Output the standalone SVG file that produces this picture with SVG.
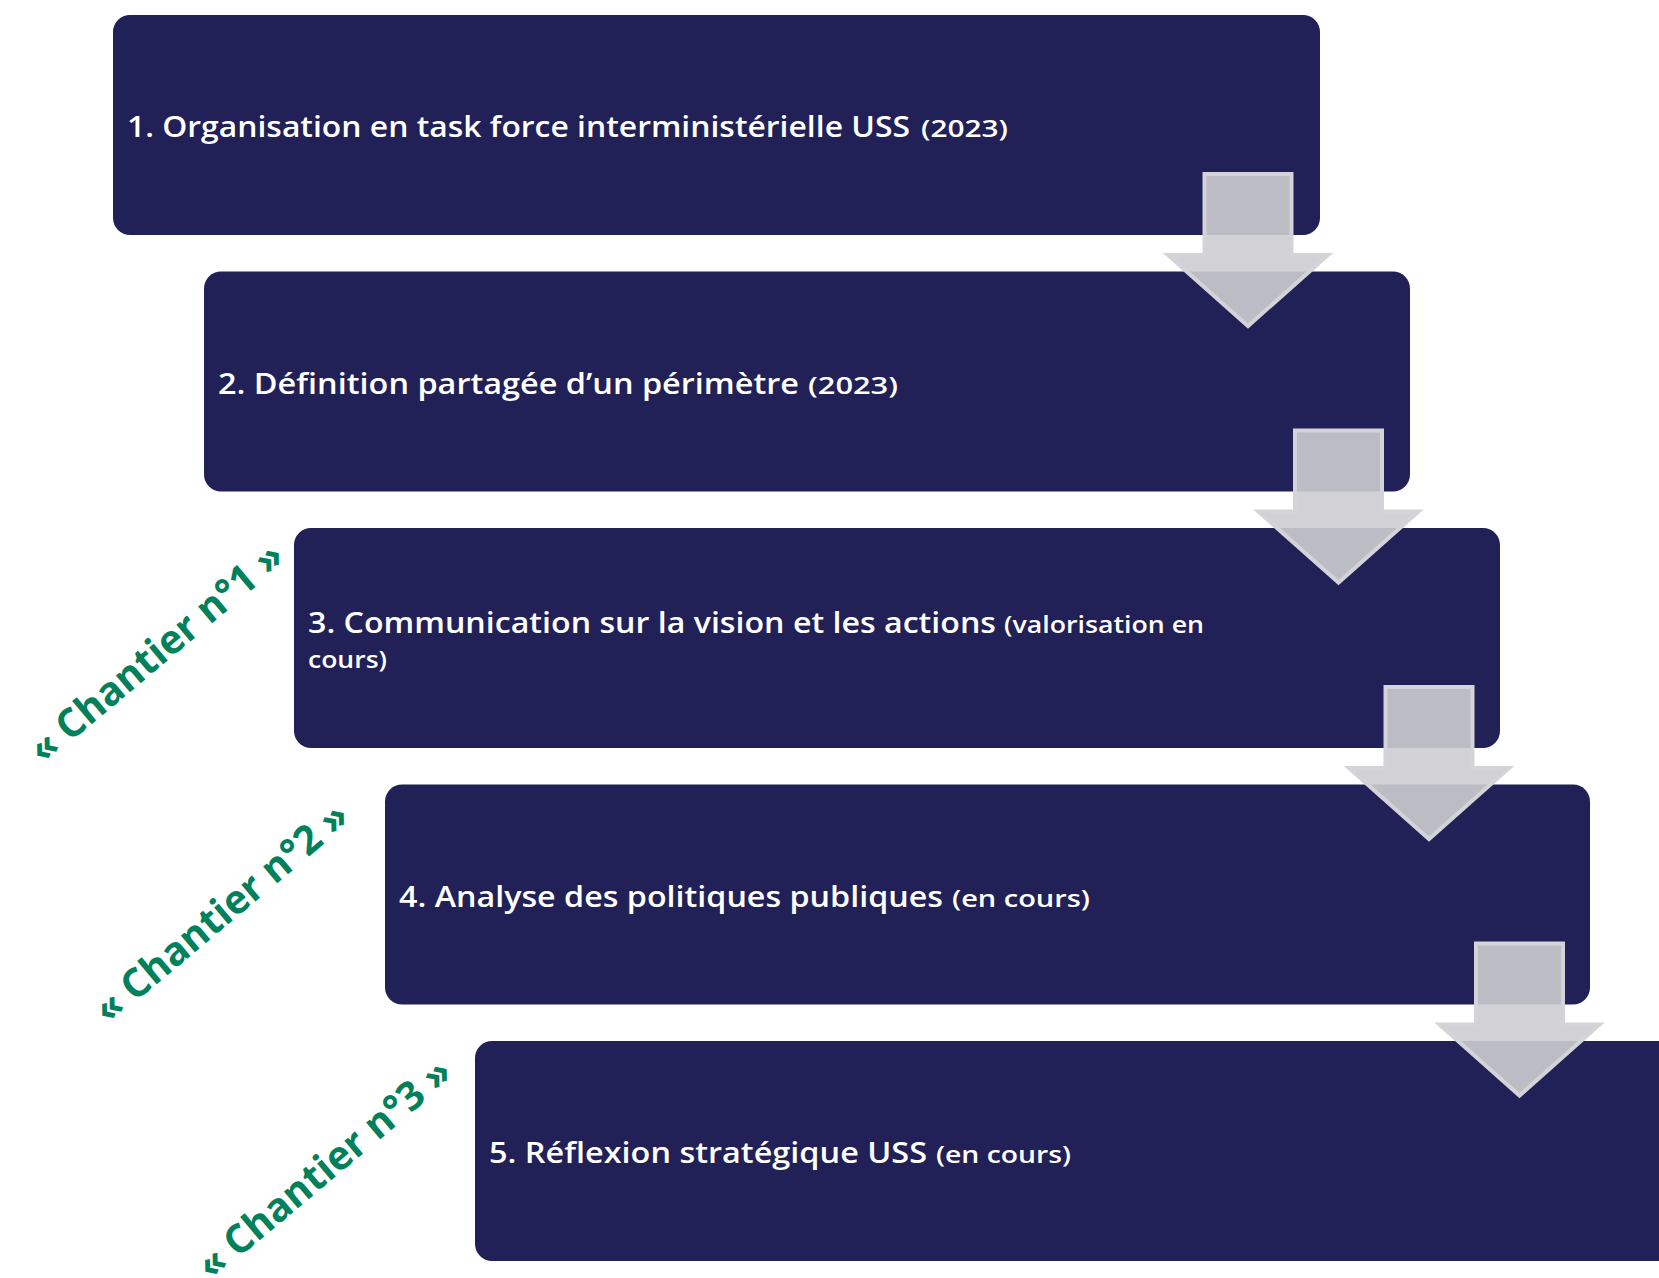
<svg xmlns="http://www.w3.org/2000/svg" width="1659" height="1278" viewBox="0 0 1659 1278">
<style>
.box{fill:#212057;}
.arrow{fill:rgb(205,205,210);fill-opacity:0.9;stroke:rgb(212,212,216);stroke-width:4;stroke-linejoin:miter;}
.t{font-family:"Open Sans","Liberation Sans",sans-serif;font-weight:600;fill:#ffffff;}
.m{font-size:29px;}
.p{font-size:24px;}
.ch{font-family:"Open Sans","Liberation Sans",sans-serif;font-weight:700;font-size:40px;fill:#00805b;text-anchor:middle;}
</style>
<rect width="1659" height="1278" fill="#ffffff"/>
<g id="step1">
<rect class="box" x="113" y="15" width="1207" height="220" rx="17"/>
<text class="t m" x="127" y="137" textLength="783" lengthAdjust="spacingAndGlyphs">1. Organisation en task force interministérielle USS</text>
<text class="t p" x="921" y="137" textLength="87" lengthAdjust="spacingAndGlyphs">(2023)</text>
</g>
<g id="step2">
<rect class="box" x="204" y="271.5" width="1206" height="220" rx="17"/>
<text class="t m" x="218" y="393.5" textLength="581" lengthAdjust="spacingAndGlyphs">2. Définition partagée d’un périmètre</text>
<text class="t p" x="808" y="393.5" textLength="90" lengthAdjust="spacingAndGlyphs">(2023)</text>
</g>
<g id="step3">
<rect class="box" x="294" y="528" width="1206" height="220" rx="17"/>
<text class="t m" x="308" y="633" textLength="688" lengthAdjust="spacingAndGlyphs">3. Communication sur la vision et les actions</text>
<text class="t p" x="1004" y="633" textLength="200" lengthAdjust="spacingAndGlyphs">(valorisation en</text>
<text class="t p" x="308" y="668" textLength="79" lengthAdjust="spacingAndGlyphs">cours)</text>
</g>
<g id="step4">
<rect class="box" x="385" y="784.5" width="1205" height="220" rx="17"/>
<text class="t m" x="399" y="907" textLength="544" lengthAdjust="spacingAndGlyphs">4. Analyse des politiques publiques</text>
<text class="t p" x="952" y="907" textLength="138" lengthAdjust="spacingAndGlyphs">(en cours)</text>
</g>
<g id="step5">
<rect class="box" x="475" y="1041" width="1220" height="220" rx="17"/>
<text class="t m" x="489" y="1163" textLength="438" lengthAdjust="spacingAndGlyphs">5. Réflexion stratégique USS</text>
<text class="t p" x="936" y="1163" textLength="135" lengthAdjust="spacingAndGlyphs">(en cours)</text>
</g>
<g id="connectors">
<path class="arrow" d="M1204.5,174 H1291.5 V255 H1328 L1248,326 L1168,255 H1204.5 Z"/>
<path class="arrow" d="M1295,430.5 H1382 V511.5 H1418.5 L1338.5,582.5 L1258.5,511.5 H1295 Z"/>
<path class="arrow" d="M1385.5,687 H1472.5 V768 H1509 L1429,839 L1349,768 H1385.5 Z"/>
<path class="arrow" d="M1476,943.5 H1563 V1024.5 H1599.5 L1519.5,1095.5 L1439.5,1024.5 H1476 Z"/>
</g>
<g id="chantier1"><text class="ch" transform="translate(156,652) rotate(-40)" x="0" y="14" textLength="318" lengthAdjust="spacingAndGlyphs">« Chantier n°1 »</text></g>
<g id="chantier2"><text class="ch" transform="translate(221,912) rotate(-40)" x="0" y="14" textLength="318" lengthAdjust="spacingAndGlyphs">« Chantier n°2 »</text></g>
<g id="chantier3"><text class="ch" transform="translate(324,1168) rotate(-40)" x="0" y="14" textLength="318" lengthAdjust="spacingAndGlyphs">« Chantier n°3 »</text></g>
</svg>
